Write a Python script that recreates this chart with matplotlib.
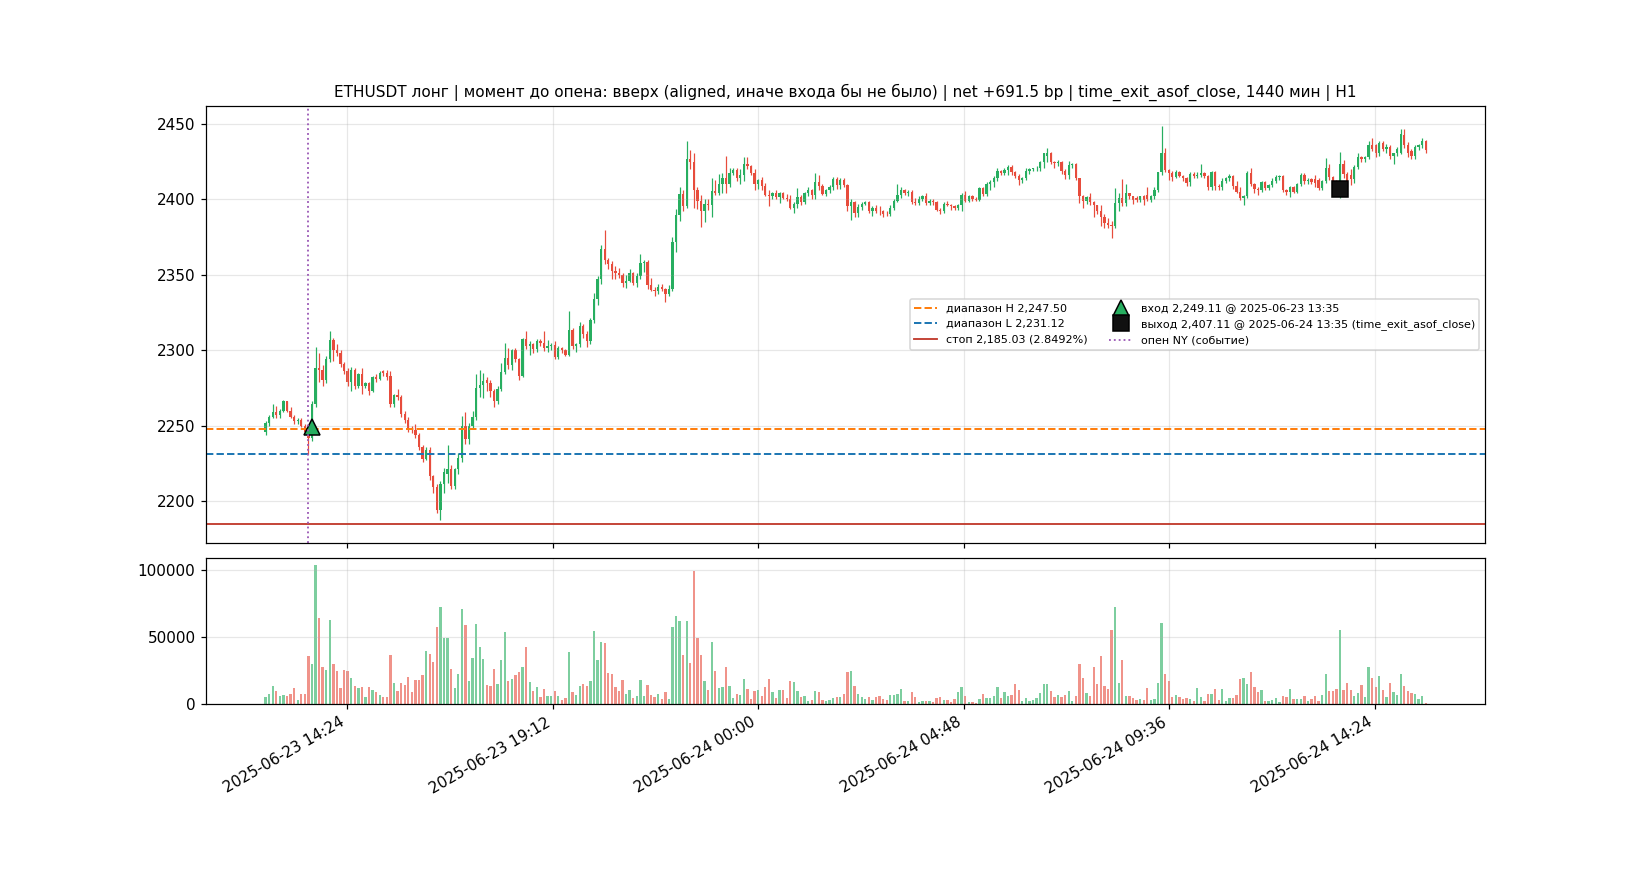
import numpy as np
import pandas as pd
import matplotlib
matplotlib.use('Agg')
import matplotlib.pyplot as plt
import matplotlib.dates as mdates

# 5-минутные свечи ETHUSDT, 2025-06-23 12:30 .. 2025-06-24 15:35
start = '2025-06-23 12:30'
n_bars = 326

opens = [
    2246, 2252, 2256, 2259, 2257, 2260, 2266, 2260, 2256, 2253,
    2254, 2250, 2246, 2242, 2264, 2288, 2287, 2280.5, 2294, 2307,
    2300, 2298, 2291, 2286, 2279, 2287, 2276, 2284, 2276, 2278,
    2273, 2282, 2281, 2286, 2285, 2283, 2264, 2270, 2269, 2258,
    2254, 2248.5, 2247, 2244, 2236, 2228, 2234, 2216.5, 2209.5, 2194,
    2211, 2218, 2221, 2210, 2221, 2228.5, 2249.5, 2241, 2249.5, 2256,
    2275, 2277, 2280, 2278, 2273, 2266, 2274, 2285.5, 2295, 2290.5,
    2300, 2294, 2283, 2307.5, 2302.5, 2304, 2300.5, 2306, 2304.5, 2301.5,
    2303, 2303.5, 2295.5, 2301.5, 2300, 2297, 2313.5, 2302.5, 2304, 2316,
    2311, 2306, 2320, 2334, 2347, 2367, 2359.5, 2357, 2352.5, 2351,
    2350, 2344.5, 2346, 2351, 2344.5, 2349, 2357.5, 2358.5, 2343, 2340,
    2339, 2342, 2340.5, 2337.5, 2340.5, 2372, 2389.5, 2403.5, 2395.5, 2427,
    2425, 2406, 2399, 2392.5, 2397, 2396, 2405.5, 2404, 2410, 2414,
    2410, 2417.5, 2419.5, 2414, 2416, 2423.5, 2422, 2417.5, 2410, 2413,
    2409, 2403, 2402, 2404.5, 2401.5, 2404, 2401, 2400.5, 2394, 2397,
    2401.5, 2398.5, 2404, 2406, 2403, 2411.5, 2409, 2403.5, 2406, 2408.5,
    2413.5, 2409.5, 2413, 2409.5, 2395.5, 2398, 2391, 2395, 2397, 2398.5,
    2392.5, 2394.5, 2392.5, 2392, 2390.5, 2390, 2394.5, 2399, 2403, 2406,
    2404.5, 2405, 2398.5, 2397.5, 2400.5, 2402, 2397.5, 2399, 2398, 2393,
    2392.5, 2397, 2396, 2395.5, 2394, 2396.5, 2403, 2399, 2402, 2400,
    2399.5, 2407.5, 2403.5, 2410, 2411.5, 2414.5, 2419, 2417.5, 2419.5, 2421.5,
    2418, 2415.5, 2413, 2414.5, 2419, 2420, 2420.5, 2421, 2425, 2429,
    2431, 2425, 2424, 2425, 2419, 2416.5, 2423, 2423.5, 2414, 2402,
    2399, 2401.5, 2398.5, 2396, 2392, 2388, 2384.5, 2383, 2382.5, 2397.5,
    2401, 2397.5, 2404, 2402, 2401, 2399.5, 2402, 2403, 2399.5, 2402,
    2406, 2418, 2430.5, 2419.5, 2417.5, 2415, 2418, 2415.5, 2414, 2411.5,
    2417, 2415.5, 2416.5, 2417.5, 2415.5, 2408, 2418, 2409, 2408, 2412.5,
    2414, 2415.5, 2409, 2405, 2401, 2402, 2417.5, 2410.5, 2407, 2406,
    2411.5, 2407.5, 2409.5, 2412.5, 2415, 2415.5, 2406, 2405, 2408, 2405,
    2410, 2416, 2412, 2413.5, 2413.5, 2413, 2407.5, 2412, 2421, 2415,
    2411.5, 2404, 2423.5, 2417, 2416, 2413.5, 2421.5, 2428, 2427, 2428,
    2436, 2436, 2430.5, 2437.5, 2433.5, 2434.5, 2429, 2430.5, 2431, 2442.5,
    2436, 2432, 2428.5, 2434.5, 2436, 2438.5,
]
highs = [
    2253, 2257, 2264, 2263, 2261, 2267, 2266.5, 2262, 2257, 2255,
    2255, 2251, 2248, 2266, 2302, 2298, 2290, 2296, 2313, 2308,
    2304, 2300, 2292, 2288, 2289, 2288, 2285, 2288, 2279, 2279,
    2283, 2284, 2286, 2287, 2287, 2286, 2271, 2274, 2270, 2260,
    2256, 2250, 2251, 2245, 2237, 2236, 2236, 2217, 2211, 2213,
    2222, 2237, 2224, 2222, 2232, 2256.5, 2259, 2252, 2260, 2284,
    2287, 2285, 2282, 2280, 2274, 2276, 2291.5, 2304.5, 2301.5, 2301,
    2301.5, 2295, 2308, 2312.5, 2306, 2305, 2307.5, 2307.5, 2312.5, 2306.5,
    2305, 2306, 2303, 2302, 2301, 2326, 2315, 2305, 2319, 2317.5,
    2313, 2321.5, 2338, 2349, 2370, 2380, 2361, 2359, 2356, 2354.5,
    2351, 2350, 2354, 2352, 2351, 2363.5, 2360, 2360, 2348, 2342,
    2344, 2344, 2341, 2343, 2375, 2393.5, 2408.5, 2406.5, 2439, 2433,
    2431, 2408, 2403, 2400, 2400, 2414.5, 2413, 2417, 2417.5, 2429,
    2421, 2420.5, 2421, 2420, 2428, 2428, 2423, 2420, 2413.5, 2415,
    2411, 2406, 2405, 2406.5, 2405, 2405, 2403.5, 2403, 2398, 2407.5,
    2403, 2405, 2408, 2407, 2417.5, 2416, 2410, 2407, 2409.5, 2415,
    2415, 2414, 2414, 2410, 2400, 2399, 2397, 2398.5, 2399, 2399,
    2395.5, 2396, 2395.5, 2393, 2392, 2396, 2400, 2410.5, 2408, 2407,
    2406, 2406, 2401, 2402, 2403, 2404, 2400, 2400, 2399, 2394,
    2398, 2399, 2397, 2396, 2397, 2404, 2405.5, 2403, 2403, 2401.5,
    2408.5, 2408.5, 2411.5, 2413, 2415.5, 2420.5, 2419.5, 2420.5, 2423, 2423,
    2419, 2417, 2415, 2420.5, 2421, 2421, 2422, 2425.5, 2431, 2434,
    2431.5, 2425.5, 2426, 2425.5, 2420, 2425.5, 2424, 2424, 2414.5, 2403,
    2402, 2404, 2399, 2396.5, 2396.5, 2390, 2387.5, 2385.5, 2407.5, 2404.5,
    2413.5, 2410, 2404.5, 2402.5, 2402, 2402.5, 2403, 2408.5, 2403, 2408.5,
    2418, 2449, 2434, 2420, 2418.5, 2419.5, 2419, 2416, 2415, 2418,
    2418, 2418, 2423.5, 2418, 2416, 2419, 2419, 2410, 2414, 2415,
    2417, 2416, 2412.5, 2408, 2403, 2418.5, 2421, 2411, 2408, 2412,
    2412, 2410, 2414, 2416.5, 2416, 2416, 2407, 2409, 2409, 2411,
    2417.5, 2417.5, 2414, 2414, 2416, 2414, 2413, 2427.5, 2423.5, 2415.5,
    2413, 2431.5, 2426, 2418, 2420, 2423, 2431, 2429, 2429, 2439,
    2440.5, 2437, 2439, 2439, 2437, 2436, 2431, 2435, 2447, 2447,
    2438, 2433.5, 2436, 2437, 2440.5, 2439.5,
]
lows = [
    2244, 2250, 2255, 2255, 2255, 2259, 2259, 2255, 2251, 2251,
    2249, 2245, 2231, 2240, 2262, 2279, 2276, 2278, 2292, 2293,
    2296, 2289, 2284, 2276, 2273, 2274, 2275, 2271, 2275, 2270,
    2272, 2279, 2280, 2283, 2280, 2262, 2262, 2267, 2256, 2252,
    2246, 2245, 2242, 2234, 2226, 2227, 2214, 2205, 2192, 2187.5,
    2205, 2212, 2208, 2208, 2218, 2226, 2238, 2238, 2248, 2254,
    2269, 2268, 2273, 2269, 2262, 2264, 2273, 2284, 2287.5, 2287,
    2292, 2280.5, 2282, 2300.5, 2297, 2298, 2299, 2303, 2299.5, 2298.5,
    2300, 2294, 2294, 2298, 2296, 2296, 2300.5, 2299, 2302, 2308,
    2302, 2304, 2318, 2330, 2344, 2357, 2354, 2347, 2347, 2348,
    2342, 2341, 2345, 2343, 2342, 2347, 2352, 2340.5, 2339, 2336,
    2337, 2339, 2332, 2336, 2339, 2365, 2386, 2392, 2394, 2420,
    2394, 2393.5, 2382, 2385, 2393, 2388.5, 2403, 2403, 2404, 2404,
    2408, 2416, 2412, 2410, 2412, 2420, 2416, 2406.5, 2407, 2406,
    2402, 2395.5, 2400, 2400.5, 2397.5, 2400, 2399, 2393.5, 2391, 2394.5,
    2396, 2397, 2402, 2400, 2400, 2406, 2403, 2402, 2404, 2406,
    2407, 2407, 2408, 2392, 2386.5, 2388, 2388.5, 2393, 2396, 2391,
    2389, 2391, 2389.5, 2388, 2389, 2389, 2393, 2398, 2401, 2403,
    2402, 2397, 2396, 2396, 2399, 2396, 2396, 2396, 2392, 2390.5,
    2391, 2395.5, 2393, 2393, 2393, 2392.5, 2398, 2398, 2399, 2399,
    2399, 2402, 2402, 2406, 2408, 2412, 2416, 2416, 2416, 2416,
    2414.5, 2409.5, 2411, 2413, 2417, 2419, 2419, 2419, 2421, 2425,
    2423.5, 2421, 2422, 2417, 2413.5, 2413.5, 2421, 2413, 2397.5, 2394.5,
    2397, 2396.5, 2388.5, 2390, 2382.5, 2381, 2381, 2374.5, 2381, 2392,
    2395.5, 2395.5, 2400, 2397, 2398, 2398, 2396.5, 2399, 2398, 2400,
    2405, 2416, 2418, 2413, 2412, 2414, 2415, 2412, 2409, 2409,
    2414, 2414, 2415, 2414, 2406.5, 2406.5, 2406, 2406, 2406, 2411,
    2412, 2407, 2404, 2399.5, 2396.5, 2401, 2409, 2404, 2403, 2405,
    2406, 2406, 2408, 2411, 2413, 2405, 2403, 2401.5, 2404, 2404,
    2409, 2410, 2410, 2410, 2408, 2406, 2406, 2411, 2413, 2410,
    2402, 2401, 2414, 2408, 2409.5, 2411, 2420, 2425, 2425, 2427,
    2432, 2428, 2429, 2432, 2431, 2427, 2423.5, 2429, 2430, 2434,
    2428, 2426.5, 2427, 2433, 2434, 2431,
]
closes = [
    2252, 2256, 2259, 2257, 2260, 2266, 2260, 2256, 2253, 2254,
    2250, 2246, 2242, 2264, 2288, 2287, 2280.5, 2294, 2307, 2300,
    2298, 2291, 2286, 2279, 2287, 2276, 2284, 2276, 2278, 2273,
    2282, 2281, 2285, 2285, 2282, 2264, 2270, 2269, 2258, 2254,
    2248.5, 2247, 2244, 2236, 2228, 2234, 2216.5, 2209.5, 2194, 2211,
    2219, 2221, 2210, 2221, 2228.5, 2249.5, 2241, 2249.5, 2256, 2275,
    2277, 2279.5, 2278, 2273, 2266, 2274, 2285.5, 2295, 2290.5, 2300,
    2294, 2283, 2307.5, 2302.5, 2304, 2300.5, 2306, 2304.5, 2301.5, 2303,
    2303.5, 2295.5, 2301.5, 2300, 2297, 2313.5, 2302.5, 2304, 2316, 2311,
    2306, 2320, 2334, 2347, 2367, 2359.5, 2357, 2352.5, 2351, 2350,
    2344.5, 2346, 2351, 2344.5, 2349, 2357.5, 2358.5, 2343, 2340, 2339,
    2342, 2340.5, 2337.5, 2340.5, 2372, 2389.5, 2403.5, 2395.5, 2427, 2425,
    2406, 2399, 2392.5, 2397, 2396, 2405.5, 2404, 2410, 2414, 2410,
    2417.5, 2419.5, 2414, 2416, 2423.5, 2422, 2417.5, 2410, 2413, 2409,
    2403, 2402, 2404.5, 2401.5, 2404, 2401, 2400.5, 2394, 2397, 2401.5,
    2398.5, 2404, 2406, 2403, 2411.5, 2409, 2403.5, 2406, 2408.5, 2413.5,
    2409.5, 2413, 2409.5, 2395.5, 2398, 2391, 2395, 2397, 2398.5, 2392.5,
    2394.5, 2392.5, 2392, 2390.5, 2390, 2394.5, 2399, 2403, 2406, 2404.5,
    2405, 2398.5, 2397.5, 2400.5, 2402, 2397.5, 2399, 2398, 2393, 2392.5,
    2397, 2396, 2395.5, 2394, 2396.5, 2403, 2399, 2402, 2400, 2399.5,
    2407.5, 2403.5, 2410, 2411.5, 2414.5, 2419, 2417.5, 2419.5, 2421.5, 2418,
    2415.5, 2413, 2414.5, 2419, 2420, 2420.5, 2421, 2425, 2430.5, 2431,
    2425, 2424, 2425, 2419, 2416.5, 2423, 2423.5, 2414, 2402, 2399,
    2401.5, 2398.5, 2396, 2392, 2388, 2384.5, 2383, 2382.5, 2397.5, 2401,
    2397.5, 2404, 2402, 2399.5, 2399.5, 2402, 2399.5, 2400.5, 2402, 2406,
    2418, 2430.5, 2419.5, 2417.5, 2415, 2418, 2415.5, 2414, 2411, 2417,
    2415.5, 2416.5, 2417.5, 2415.5, 2408, 2418, 2409, 2408, 2412.5, 2414,
    2415.5, 2409, 2405, 2401, 2402, 2417.5, 2410.5, 2407, 2406, 2411.5,
    2407.5, 2409.5, 2412.5, 2415, 2415.5, 2406, 2405, 2408, 2405, 2410,
    2416, 2412, 2413, 2411.5, 2411, 2407.5, 2412, 2421, 2415, 2411.5,
    2404, 2423.5, 2417, 2410.5, 2413.5, 2421.5, 2428, 2427, 2428, 2436,
    2433.5, 2430.5, 2437.5, 2433.5, 2434.5, 2429, 2430.5, 2433.5, 2443.5, 2436,
    2430.5, 2428.5, 2434.5, 2436, 2439, 2432.5,
]
volumes = [
    5000, 7200, 13200, 9500, 5700, 6500, 5700, 7200, 11700, 2700,
    7200, 7200, 35700, 29700, 103700, 64100, 27400, 25200, 62600, 29700,
    24400, 11700, 25200, 24400, 19200, 13200, 11700, 12500, 5000, 12500,
    10200, 8700, 6500, 5000, 5000, 36400, 15500, 9500, 15500, 14000,
    20000, 8700, 17700, 17700, 21400, 39400, 37200, 31200, 57400, 72300,
    49100, 49100, 25900, 11700, 22200, 70800, 58900, 17000, 34200, 59600,
    42400, 33400, 14000, 13200, 25900, 14700, 32700, 53600, 17000, 18500,
    21400, 23700, 27400, 42400, 16200, 9500, 12500, 5000, 11000, 5700,
    5700, 9500, 5700, 2700, 4200, 38700, 8700, 6500, 13200, 14700,
    13200, 17000, 54400, 32700, 46100, 45400, 22900, 22200, 12500, 9500,
    17700, 7200, 10200, 4200, 5700, 17700, 5700, 14000, 6500, 5000,
    7200, 3500, 8700, 3500, 57400, 65600, 61900, 36400, 61900, 30400,
    99300, 49100, 36400, 17000, 10200, 46100, 24400, 11700, 12500, 27400,
    13200, 4200, 7200, 6500, 18500, 11000, 3500, 9500, 10200, 5700,
    12500, 18500, 8700, 4200, 10200, 10200, 4200, 17000, 16200, 9500,
    5000, 5700, 2000, 2700, 9500, 8700, 2700, 2000, 2700, 4200,
    5000, 5000, 7200, 23700, 24400, 13200, 7200, 5000, 3500, 5000,
    2700, 5000, 5700, 3500, 2700, 6500, 6500, 7200, 11000, 2000,
    2000, 8700, 5000, 1200, 2000, 2000, 2000, 1200, 4200, 5000,
    2700, 2700, 1200, 3500, 8700, 12500, 5700, 1200, 1200, 500,
    3500, 7200, 4200, 4200, 5700, 12500, 4200, 8700, 5700, 6500,
    14700, 10200, 2000, 4200, 2000, 2700, 4200, 8000, 14700, 14700,
    9500, 5000, 6500, 5000, 6500, 9500, 2000, 5700, 29700, 19200,
    8000, 5700, 27400, 14700, 35700, 13200, 11000, 55100, 72300, 15500,
    32700, 5700, 5700, 4200, 2700, 3500, 2700, 11700, 2700, 3500,
    15500, 60400, 22200, 17000, 5000, 6500, 5000, 3500, 4200, 3500,
    2000, 11700, 5000, 2000, 7200, 7200, 11000, 2700, 11000, 2000,
    4200, 4200, 6500, 18500, 19200, 14700, 23700, 12500, 8700, 10200,
    2000, 2000, 2700, 4200, 1200, 5700, 5000, 11000, 3500, 3500,
    3500, 5700, 2000, 3500, 5700, 2000, 6500, 22200, 9500, 9500,
    11000, 55100, 10200, 15500, 10200, 5700, 8000, 14000, 5000, 27400,
    19200, 12500, 20700, 10200, 5000, 15500, 8700, 6500, 22200, 13200,
    9500, 8000, 7200, 3500, 5700, 500,
]

range_h = 2247.50
range_l = 2231.12
stop_px = 2185.03
entry_time = '2025-06-23 13:35'
entry_px = 2249.11
exit_time = '2025-06-24 13:35'
exit_px = 2407.11
ny_open_time = '2025-06-23 13:30'

title = ('ETHUSDT лонг | момент до опена: вверх (aligned, иначе входа бы не было) | '
         'net +691.5 bp | time_exit_asof_close, 1440 мин | H1')

GREEN = '#27ae60'
RED = '#e74c3c'

times = pd.date_range(start, periods=n_bars, freq='5min')
x = mdates.date2num(times.to_pydatetime())
o = np.array(opens)
h = np.array(highs)
l = np.array(lows)
c = np.array(closes)
v = np.array(volumes)
up = c >= o
colors = np.where(up, GREEN, RED)
bar_w = 5 / (24 * 60) * 0.65

fig, (ax, axv) = plt.subplots(2, 1, figsize=(15, 8), dpi=110, sharex=True,
                              gridspec_kw={'height_ratios': [3, 1], 'hspace': 0.05})

# свечи
ax.vlines(x, l, h, colors=colors, linewidth=0.8)
body = np.maximum(np.abs(c - o), 0.3)
ax.bar(x, body, bottom=np.minimum(o, c), width=bar_w, color=colors, linewidth=0)

ax.axhline(range_h, color='tab:orange', ls='--', lw=1.3, label='диапазон H 2,247.50')
ax.axhline(range_l, color='tab:blue', ls='--', lw=1.3, label='диапазон L 2,231.12')
ax.axhline(stop_px, color='#c0392b', lw=1.2, label='стоп 2,185.03 (2.8492%)')
ax.plot(mdates.date2num(pd.Timestamp(entry_time)), entry_px, '^', ms=10,
        mfc=GREEN, mec='black', mew=1, ls='none', label='вход 2,249.11 @ 2025-06-23 13:35')
ax.plot(mdates.date2num(pd.Timestamp(exit_time)), exit_px, 's', ms=10,
        mfc='#111111', mec='black', ls='none',
        label='выход 2,407.11 @ 2025-06-24 13:35 (time_exit_asof_close)')
ax.axvline(mdates.date2num(pd.Timestamp(ny_open_time)), color='#9b59b6', ls=':', lw=1.2,
           label='опен NY (событие)')

ax.set_title(title, fontsize=10)
ax.grid(alpha=0.3)
ax.legend(loc='center right', ncol=2, fontsize=7.3)

# объём
axv.bar(x, v, width=bar_w, color=colors, alpha=0.6, linewidth=0)
axv.grid(alpha=0.3)

axv.xaxis.set_major_formatter(mdates.DateFormatter('%Y-%m-%d %H:%M'))
fig.autofmt_xdate()

fig.savefig('out.png')
